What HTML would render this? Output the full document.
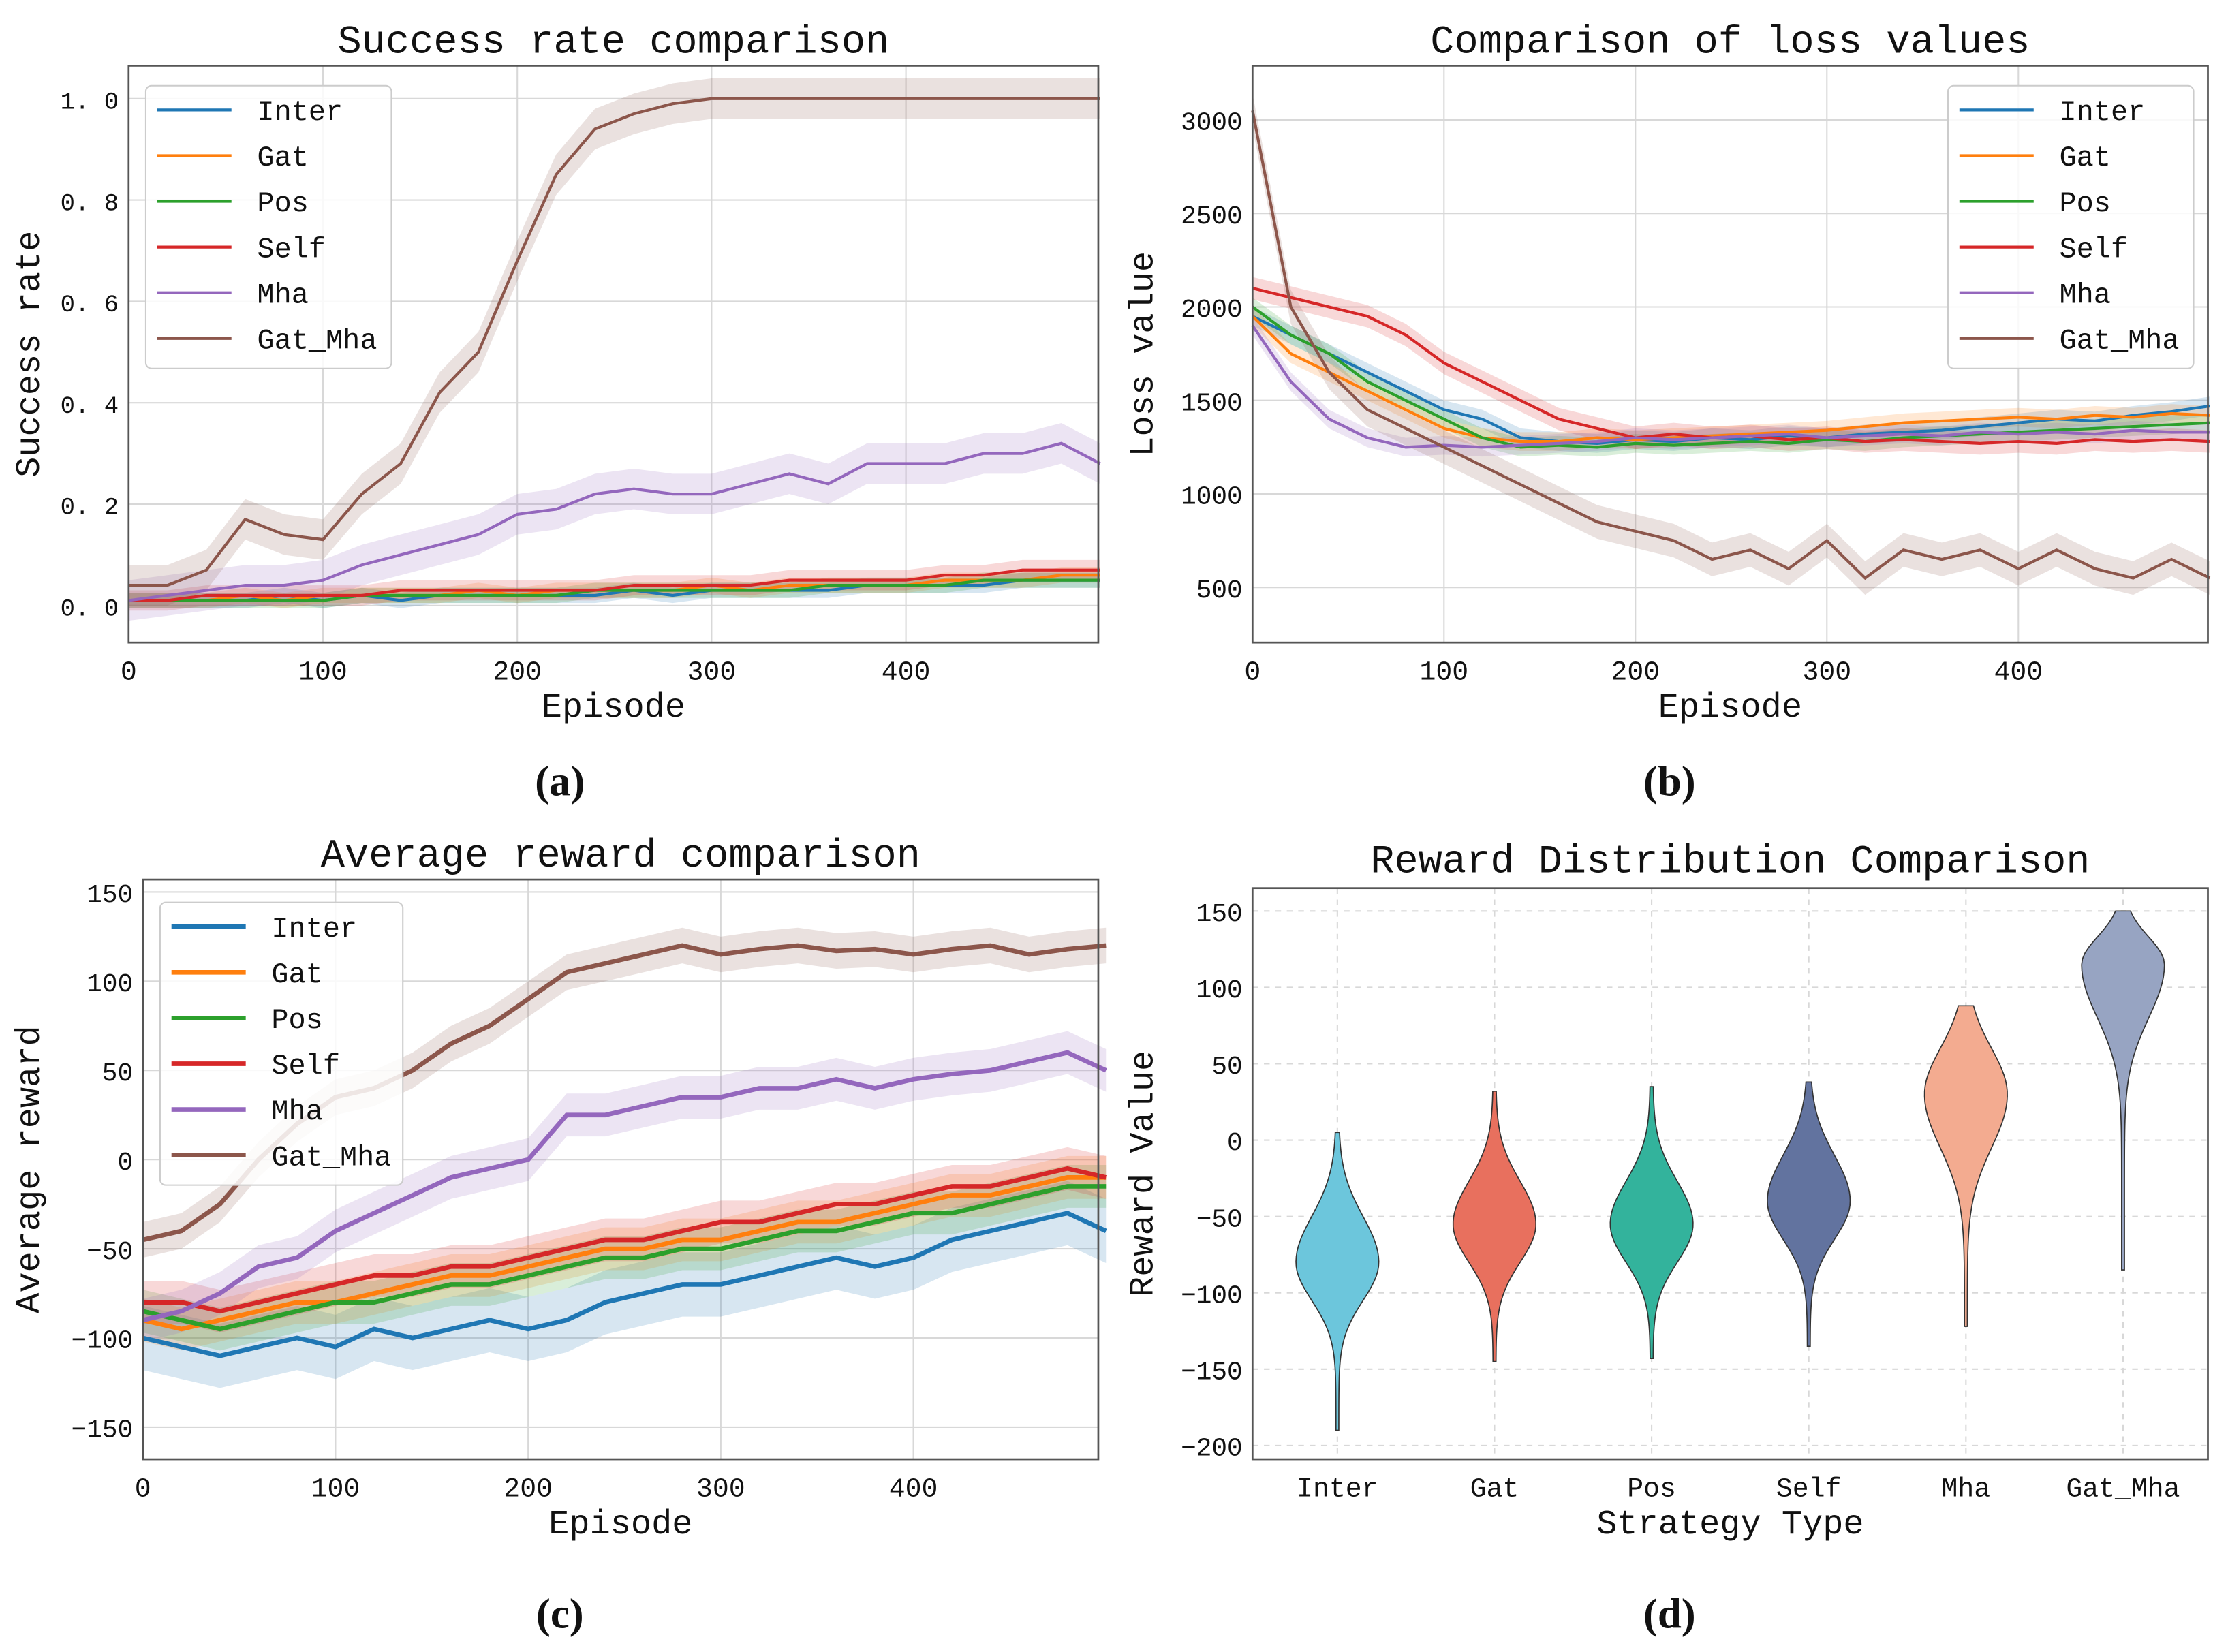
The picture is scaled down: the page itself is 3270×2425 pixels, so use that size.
<!DOCTYPE html>
<html><head><meta charset="utf-8"><style>
html,body{margin:0;padding:0;background:#fff}
svg{display:block}
text{font-family:"Liberation Mono","Noto Sans CJK SC",monospace;fill:#111}
.cap{font-family:"Liberation Serif",serif;font-weight:bold}
</style></head><body>
<svg id="s" width="3270" height="2425" viewBox="0 0 1560 1157" xmlns="http://www.w3.org/2000/svg"></svg>
<script>
// ---------- data ----------
const episodes=[0,20,40,60,80,100,120,140,160,180,200,220,240,260,280,300,320,340,360,380,400,420,440,460,480,500];
const seriesNames=["Inter","Gat","Pos","Self","Mha","Gat_Mha"];
// (a) success rate
const succInter=[0.01,0.01,0.01,0.01,0.02,0.01,0.02,0.01,0.02,0.02,0.02,0.02,0.02,0.03,0.02,0.03,0.03,0.03,0.03,0.04,0.04,0.04,0.04,0.05,0.05,0.05];
const succGat=[0.01,0.01,0.01,0.02,0.01,0.02,0.02,0.02,0.02,0.03,0.02,0.03,0.03,0.03,0.03,0.04,0.03,0.04,0.04,0.04,0.04,0.05,0.05,0.05,0.06,0.06];
const succPos=[0.01,0.01,0.01,0.01,0.01,0.01,0.02,0.02,0.02,0.02,0.02,0.02,0.03,0.03,0.03,0.03,0.03,0.03,0.04,0.04,0.04,0.04,0.05,0.05,0.05,0.05];
const succSelf=[0.01,0.01,0.02,0.02,0.02,0.02,0.02,0.03,0.03,0.03,0.03,0.03,0.03,0.04,0.04,0.04,0.04,0.05,0.05,0.05,0.05,0.06,0.06,0.07,0.07,0.07];
const succMha=[0.01,0.02,0.03,0.04,0.04,0.05,0.08,0.10,0.12,0.14,0.18,0.19,0.22,0.23,0.22,0.22,0.24,0.26,0.24,0.28,0.28,0.28,0.30,0.30,0.32,0.28];
const succGatMha=[0.04,0.04,0.07,0.17,0.14,0.13,0.22,0.28,0.42,0.50,0.68,0.85,0.94,0.97,0.99,1,1,1,1,1,1,1,1,1,1,1];
// (b) loss
const lossInter=[1950,1850,1750,1650,1550,1450,1400,1300,1280,1270,1290,1280,1300,1290,1310,1300,1320,1330,1340,1360,1380,1400,1390,1420,1440,1470];
const lossGat=[1950,1750,1650,1550,1450,1350,1300,1280,1280,1300,1290,1300,1310,1320,1330,1340,1360,1380,1390,1400,1410,1400,1420,1410,1430,1420];
const lossPos=[2000,1850,1750,1600,1500,1400,1300,1250,1260,1250,1270,1260,1270,1280,1270,1290,1280,1300,1310,1320,1330,1340,1350,1360,1370,1380];
const lossSelf=[2100,2050,2000,1950,1850,1700,1600,1500,1400,1350,1300,1320,1300,1310,1290,1300,1280,1290,1280,1270,1280,1270,1290,1280,1290,1280];
const lossMha=[1900,1600,1400,1300,1250,1260,1250,1260,1270,1280,1300,1290,1300,1310,1320,1300,1310,1320,1310,1330,1320,1330,1320,1340,1330,1330];
const lossGatMha=[3050,2000,1650,1450,1350,1250,1150,1050,950,850,800,750,650,700,600,750,550,700,650,700,600,700,600,550,650,550];
// (c) reward
const rewInter=[-100,-105,-110,-105,-100,-105,-95,-100,-95,-90,-95,-90,-80,-75,-70,-70,-65,-60,-55,-60,-55,-45,-40,-35,-30,-40];
const rewGat=[-90,-95,-90,-85,-80,-80,-75,-70,-65,-65,-60,-55,-50,-50,-45,-45,-40,-35,-35,-30,-25,-20,-20,-15,-10,-10];
const rewPos=[-85,-90,-95,-90,-85,-80,-80,-75,-70,-70,-65,-60,-55,-55,-50,-50,-45,-40,-40,-35,-30,-30,-25,-20,-15,-15];
const rewSelf=[-80,-80,-85,-80,-75,-70,-65,-65,-60,-60,-55,-50,-45,-45,-40,-35,-35,-30,-25,-25,-20,-15,-15,-10,-5,-10];
const rewMha=[-90,-85,-75,-60,-55,-40,-30,-20,-10,-5,0,25,25,30,35,35,40,40,45,40,45,48,50,55,60,50];
const rewGatMha=[-45,-40,-25,0,20,35,40,50,65,75,90,105,110,115,120,115,118,120,117,118,115,118,120,115,118,120];
// (d) violins
const violinMin=[-190,-145,-143,-135,-122,-85];
const violinMax=[5,32,35,38,88,150];
const violinMode=[-80,-55,-55,-40,30,115];
const violinSdUp=[30,28,28,30,30,18];
const violinSdDown=[25,25,25,25,35,35];
// ---------- drawing ----------
const S=document.getElementById('s'),NS="http://www.w3.org/2000/svg";
function el(t,a,p){const e=document.createElementNS(NS,t);for(const k in a)e.setAttribute(k,a[k]);(p||S).appendChild(e);return e;}
function tx(x,y,s,size,anchor,name,extra){const e=el('text',Object.assign({x:x,y:y,'font-size':size,'text-anchor':anchor||'middle'},extra||{}));e.textContent=s;

return e;}
const colors=["#1f77b4","#ff7f0e","#2ca02c","#d62728","#9467bd","#8c564b"];
function panel(o){
 const g=el('g',{});
 
 
 const X=v=>o.x0+(v-o.xmin)/(o.xmax-o.xmin)*(o.x1-o.x0);
 const Y=v=>o.y1-(v-o.ymin)/(o.ymax-o.ymin)*(o.y1-o.y0);
 o.yt.forEach(v=>{el('line',{x1:o.x0,x2:o.x1,y1:Y(v),y2:Y(v),stroke:'#d8d8d8','stroke-width':1,'stroke-dasharray':o.dash||''},g);
  tx(o.x0-7,Y(v)+7,o.ylab?o.ylab(v):v,o.ytsize||19,'end','y-tick-label');});
 o.xt.forEach((v,i)=>{el('line',{x1:X(v),x2:X(v),y1:o.y0,y2:o.y1,stroke:'#d8d8d8','stroke-width':1,'stroke-dasharray':o.dash||''},g);
  tx(X(v),o.y1+26,o.xlab?o.xlab[i]:v,19,'middle','x-tick-label');});
 tx((o.x0+o.x1)/2,o.y0-(o.toff||9),o.title,28,'middle','chart-title');
 tx((o.x0+o.x1)/2,o.y1+52,o.xtitle,24,'middle','x-axis-title');
 tx(0,0,o.ytitle,24,'middle','y-axis-title',{transform:`translate(${o.x0-o.yoff},${(o.y0+o.y1)/2}) rotate(-90)`});
 return {g,X,Y};
}
function lines(p,arrs,band,sw,bandArrs){
 arrs.forEach((a,i)=>{
  const up=a.map((v,j)=>`${p.X(episodes[j])},${p.Y(v+bandArrs[i])}`),dn=a.map((v,j)=>`${p.X(episodes[j])},${p.Y(v-bandArrs[i])}`).reverse();
  const b=el('polygon',{points:up.concat(dn).join(' '),fill:colors[i],'fill-opacity':0.18},p.g);
  
  
 });
 arrs.forEach((a,i)=>{
  const l=el('polyline',{points:a.map((v,j)=>`${p.X(episodes[j])},${p.Y(v)}`).join(' '),fill:'none',stroke:colors[i],'stroke-width':sw},p.g);
  
  
 });
}
function frame(o){el('rect',{x:o.x0,y:o.y0,width:o.x1-o.x0,height:o.y1-o.y0,fill:'none',stroke:'#555','stroke-width':1.3});}
function legend(x,y,w,sw){
 const r=el('rect',{x:x,y:y,width:w,height:198,rx:4,fill:'#fff','fill-opacity':0.85,stroke:'#ccc'});
 
 
 seriesNames.forEach((n,i)=>{const yy=y+17+i*32;
  el('line',{x1:x+8,x2:x+60,y1:yy,y2:yy,stroke:colors[i],'stroke-width':sw});
  tx(x+78,yy+7,n,20,'start','legend-entry');});
}
// (a)
const oa={name:'panel-a',x0:90,x1:769,y0:46,y1:450,xmin:0,xmax:499,ymin:-0.073,ymax:1.065,xt:[0,100,200,300,400],yt:[0,0.2,0.4,0.6,0.8,1.0],ylab:v=>v.toFixed(1).replace('.','. '),ytsize:17,title:'Success rate comparison',xtitle:'Episode',ytitle:'Success rate',yoff:63};
const pa=panel(oa);lines(pa,[succInter,succGat,succPos,succSelf,succMha,succGatMha],0,2,[0.015,0.015,0.015,0.02,0.04,0.04]);frame(oa);legend(102,60,172,2);
// (b)
const ob={name:'panel-b',x0:877,x1:1546,y0:46,y1:450,xmin:0,xmax:499,ymin:205,ymax:3290,xt:[0,100,200,300,400],yt:[500,1000,1500,2000,2500,3000],ytsize:18,title:'Comparison of loss values',xtitle:'Episode',ytitle:'Loss value',yoff:70};
const pb=panel(ob);lines(pb,[lossInter,lossGat,lossPos,lossSelf,lossMha,lossGatMha],0,2,[50,50,50,60,50,90]);frame(ob);legend(1364,60,172,2);
// (c)
const oc={name:'panel-c',x0:100,x1:769,y0:616,y1:1022,xmin:0,xmax:496,ymin:-168,ymax:157,xt:[0,100,200,300,400],yt:[-150,-100,-50,0,50,100,150],ylab:v=>String(v).replace('-','\u2212'),ytsize:18,title:'Average reward comparison',xtitle:'Episode',ytitle:'Average reward',yoff:73};
const pc=panel(oc);lines(pc,[rewInter,rewGat,rewPos,rewSelf,rewMha,rewGatMha],0,3.2,[18,12,12,12,12,10]);frame(oc);legend(112,632,170,3.2);
// (d)
const od={name:'panel-d',x0:877,x1:1546,y0:622,y1:1022,xmin:-0.54,xmax:5.54,ymin:-209,ymax:165,xt:[0,1,2,3,4,5],xlab:seriesNames,yt:[-200,-150,-100,-50,0,50,100,150],ylab:v=>String(v).replace('-','\u2212'),ytsize:18,dash:'4,4',toff:11,title:'Reward Distribution Comparison',xtitle:'Strategy Type',ytitle:'Reward Value',yoff:70};
const pd=panel(od);
const vcol=["#6cc6dc","#e8705e","#33b39c","#62739f","#f3ab90","#97a4c2"];
violinMin.forEach((mn,i)=>{
 const cx=pd.X(i),pts=[],pts2=[];
 for(let k=0;k<=60;k++){const v=mn+(violinMax[i]-mn)*k/60;const d=(v-violinMode[i])/(v>violinMode[i]?violinSdUp[i]:violinSdDown[i]);
  const w=28*Math.exp(-d*d/2)+1;pts.push(`${cx-w},${pd.Y(v)}`);pts2.unshift(`${cx+w},${pd.Y(v)}`);}
 const p=el('polygon',{points:pts.concat(pts2).join(' '),fill:vcol[i],stroke:'#333','stroke-width':0.8},pd.g);
 
 
});
frame(od);
// captions
[['(a)',392,557],['(b)',1169,557],['(c)',392,1140],['(d)',1169,1140]].forEach(c=>{const t=tx(c[1],c[2],c[0],30,'middle','panel-caption');t.setAttribute('class','cap');});
</script>
</body></html>
